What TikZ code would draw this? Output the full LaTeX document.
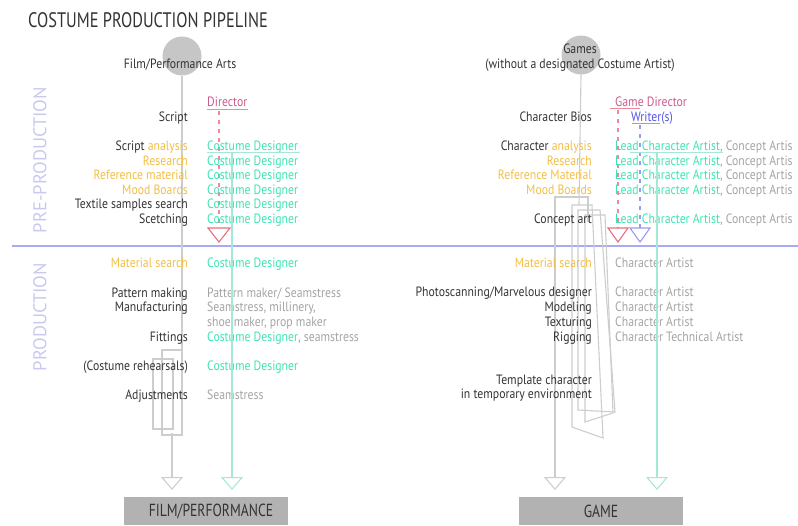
\documentclass[tikz,border=0pt]{standalone}
\usepackage{fontspec}
\setmainfont{PT Sans}[FakeStretch=0.87]
\newfontfamily\titlefont{PT Sans}[FakeStretch=0.78]
\newfontfamily\sidefont{PT Sans}
\usetikzlibrary{arrows.meta}
\definecolor{txtdark}{HTML}{333333}
\definecolor{orng}{HTML}{F2BE45}
\definecolor{mint}{HTML}{3FE3B2}
\definecolor{mintline}{HTML}{A6E8D8}
\definecolor{txtgray}{HTML}{A4A4A4}
\definecolor{pinktxt}{HTML}{CC5A8C}
\definecolor{pinkline}{HTML}{F08A9A}
\definecolor{redtri}{HTML}{E8707E}
\definecolor{bluetxt}{HTML}{5656E4}
\definecolor{blueline}{HTML}{9A9AF2}
\definecolor{lav}{HTML}{A9A9F6}
\definecolor{lavtxt}{HTML}{C9C9F0}
\definecolor{linegray}{HTML}{CDCDCD}
\definecolor{circgray}{HTML}{C6C6C6}
\definecolor{boxgray}{HTML}{B2B2B2}
\tikzset{
  lbl/.style={font=\fontsize{13.5}{15}\selectfont, inner sep=0pt, text=txtdark},
  lft/.style={lbl, anchor=base east},
  rgt/.style={lbl, anchor=base west},
  flow/.style={draw=linegray, line width=1.1pt},
  tealflow/.style={draw=mintline, line width=1.1pt},
  pinkdash/.style={draw=pinkline, line width=1.2pt, dash pattern=on 4pt off 5pt},
  bluedash/.style={draw=blueline, line width=1.2pt, dash pattern=on 4pt off 5pt},
  opentip/.style={-{Triangle[open,width=22pt,length=13pt]}},
  src/.style={circle, fill=circgray, minimum size=39pt, inner sep=0pt},
  outbox/.style={fill=boxgray, minimum width=164pt, minimum height=28pt, inner sep=0pt},
  outtxt/.style={font=\titlefont\fontsize{17.5}{17.5}\selectfont, text=txtdark, inner sep=0pt},
  side/.style={font=\sidefont\fontsize{18.5}{18.5}\selectfont, text=lavtxt, rotate=90, inner sep=0pt}
}
\begin{document}
\begin{tikzpicture}[x=1pt,y=-1pt]
\useasboundingbox (0,0) rectangle (798,525);

% title
\node[anchor=base west, inner sep=0pt, font=\titlefont\fontsize{21}{21}\selectfont, text=txtdark] (title) at (28,27) {COSTUME PRODUCTION PIPELINE};

% side labels
\node[side] (pre) at (40,160) {PRE-PRODUCTION};
\node[side] (prod) at (40,317) {PRODUCTION};

% separator
\coordinate (sepL) at (12,246);
\coordinate (sepR) at (798,246);
\draw[draw=lav, line width=1.4pt] (sepL) -- (sepR);

% ---------------- LEFT: film ----------------
\node[src] (film) at (182,56) {};
\node[lbl, anchor=base] (filmtxt) at (180,68) {Film/Performance Arts};

\coordinate (fA1) at (182,435);
\coordinate (fA2) at (162,435);
\coordinate (fA3) at (162,350);
\coordinate (fA4) at (182,350);
\draw[flow] (film.south) -- (fA1) -- (fA2) -- (fA3) -- (fA4);
\coordinate (fB1) at (153,359);
\coordinate (fB2) at (173,429);
\draw[flow] (fB1) rectangle (fB2);
\coordinate (fOut) at (172,433);
\coordinate (fEnd) at (172,490);
\draw[flow, opentip] (fOut) -- (fEnd);

% left labels
\node[lft] (l0) at (188,121) {Script};
\node[lft] (l1) at (188,150) {Script \textcolor{orng}{analysis}};
\node[lft, text=orng] (l2) at (188,165) {Research};
\node[lft, text=orng] (l3) at (188,179) {Reference material};
\node[lft, text=orng] (l4) at (188,194) {Mood Boards};
\node[lft] (l5) at (188,208) {Textile samples search};
\node[lft] (l6) at (188,223) {Scetching};
\node[lft, text=orng] (l7) at (188,267) {Material search};
\node[lft] (l8) at (188,297) {Pattern making};
\node[lft] (l9) at (188,311) {Manufacturing};
\node[lft] (l10) at (188,341) {Fittings};
\node[lft] (l11) at (188,370) {(Costume rehearsals)};
\node[lft] (l12) at (188,399) {Adjustments};

% left roles
\node[rgt, text=pinktxt] (dir) at (207,106) {Director};
\coordinate (dirU1) at (207,109);
\coordinate (dirU2) at (248,109);
\draw[draw=pinkline, line width=1pt] (dirU1) -- (dirU2);
\coordinate (dirS) at (219,111);
\coordinate (dirE) at (219,242);
\draw[pinkdash] (dirS) -- (219,228);
\draw[draw=redtri, line width=1.1pt] (208,228) -- (230,228) -- (dirE) -- cycle;

\node[rgt, text=mint] (r1) at (207,150) {Costume Designer};
\node[rgt, text=mint] (r2) at (207,165) {Costume Designer};
\node[rgt, text=mint] (r3) at (207,179) {Costume Designer};
\node[rgt, text=mint] (r4) at (207,194) {Costume Designer};
\node[rgt, text=mint] (r5) at (207,208) {Costume Designer};
\node[rgt, text=mint] (r6) at (207,223) {Costume Designer};
\node[rgt, text=mint] (r7) at (207,267) {Costume Designer};
\node[rgt, text=txtgray] (r8) at (207,297) {Pattern maker/ Seamstress};
\node[rgt, text=txtgray] (r9) at (207,311) {Seamstress, millinery,};
\node[rgt, text=txtgray] (r9b) at (207,326) {shoe maker, prop maker};
\node[rgt, text=mint] (r10) at (207,341) {Costume Designer\textcolor{txtgray}{, seamstress}};
\node[rgt, text=mint] (r11) at (207,370) {Costume Designer};
\node[rgt, text=txtgray] (r12) at (207,399) {Seamstress};

\coordinate (cdU1) at (207,152);
\coordinate (cdU2) at (300,152);
\draw[draw=mintline, line width=1pt] (cdU1) -- (cdU2);
\coordinate (cdS) at (232,152);
\coordinate (cdE) at (232,490);
\draw[tealflow, opentip] (cdS) -- (cdE);

\node[outbox] (filmout) at (206,511) {};
\node[outtxt] (filmouttxt) at (211,511) {FILM/PERFORMANCE};

% ---------------- RIGHT: games ----------------
\node[src] (games) at (581,55) {};
\node[lbl, anchor=base] (gamestxt) at (580,53) {Games};
\node[lbl, anchor=base] (gamestxt2) at (580,68) {(without a designated Costume Artist)};

\coordinate (gM) at (579,205);
\draw[flow] (games.south) -- (gM);
\coordinate (gO1) at (588,222);
\coordinate (gO2) at (588,197);
\coordinate (gO3) at (555,197);
\coordinate (gEnd) at (555,490);
\draw[flow, opentip] (gO1) -- (gO2) -- (gO3) -- (gEnd);
\draw[flow] (572,205) -- (592,205) -- (603,438) -- (572,427) -- cycle;
\draw[flow] (578,210) -- (600,210) -- (615,412) -- (578,410) -- cycle;
\draw[flow] (585,215) -- (605,215) -- (613,413) -- (585,422) -- cycle;

% right labels
\node[lft] (g0) at (592,121) {Character Bios};
\node[lft] (g1) at (592,150) {Character \textcolor{orng}{analysis}};
\node[lft, text=orng] (g2) at (592,165) {Research};
\node[lft, text=orng] (g3) at (592,179) {Reference Material};
\node[lft, text=orng] (g4) at (592,194) {Mood Boards};
\node[lft] (g5) at (592,223) {Concept art};
\node[lft, text=orng] (g6) at (592,267) {Material search};
\node[lft] (g7) at (592,296) {Photoscanning/Marvelous designer};
\node[lft] (g8) at (592,311) {Modeling};
\node[lft] (g9) at (592,326) {Texturing};
\node[lft] (g10) at (592,341) {Rigging};
\node[lft] (g11) at (592,384) {Template character};
\node[lft] (g12) at (592,398) {in temporary environment};

% right roles
\node[rgt, text=pinktxt] (gdir) at (615,106) {Game Director};
\coordinate (gdU1) at (610,108);
\coordinate (gdU2) at (640,108);
\draw[draw=pinkline, line width=1pt] (gdU1) -- (gdU2);
\node[rgt, text=bluetxt] (wri) at (631,121) {Writer(s)};
\coordinate (wrU1) at (632,123);
\coordinate (wrU2) at (660,123);
\draw[draw=blueline, line width=1pt] (wrU1) -- (wrU2);

\coordinate (gdS) at (618,110);
\coordinate (gdE) at (618,242);
\draw[pinkdash] (gdS) -- (618,228);
\draw[draw=redtri, line width=1.1pt] (608,228) -- (628,228) -- (gdE) -- cycle;
\coordinate (wrS) at (640,125);
\coordinate (wrE) at (640,242);
\draw[bluedash] (wrS) -- (640,228);
\draw[draw=blueline, line width=1.1pt] (630,228) -- (650,228) -- (wrE) -- cycle;

\node[rgt, text=mint] (h1) at (615,150) {Lead Character Artist\textcolor{txtgray}{, Concept Artis}};
\node[rgt, text=mint] (h2) at (615,165) {Lead Character Artist\textcolor{txtgray}{, Concept Artis}};
\node[rgt, text=mint] (h3) at (615,179) {Lead Character Artist\textcolor{txtgray}{, Concept Artis}};
\node[rgt, text=mint] (h4) at (615,194) {Lead Character Artist\textcolor{txtgray}{, Concept Artis}};
\node[rgt, text=mint] (h5) at (615,223) {Lead Character Artist\textcolor{txtgray}{, Concept Artis}};
\node[rgt, text=txtgray] (h6) at (615,267) {Character Artist};
\node[rgt, text=txtgray] (h7) at (615,296) {Character Artist};
\node[rgt, text=txtgray] (h8) at (615,311) {Character Artist};
\node[rgt, text=txtgray] (h9) at (615,326) {Character Artist};
\node[rgt, text=txtgray] (h10) at (615,341) {Character Technical Artist};

\coordinate (caU1) at (630,152);
\coordinate (caU2) at (723,152);
\draw[draw=mintline, line width=1pt] (caU1) -- (caU2);
\coordinate (caS) at (657,152);
\coordinate (caE) at (657,490);
\draw[tealflow, opentip] (caS) -- (caE);

\node[outbox] (gameout) at (600.5,511) {};
\node[outtxt] (gameouttxt) at (601,511) {GAME};
\end{tikzpicture}
\end{document}
